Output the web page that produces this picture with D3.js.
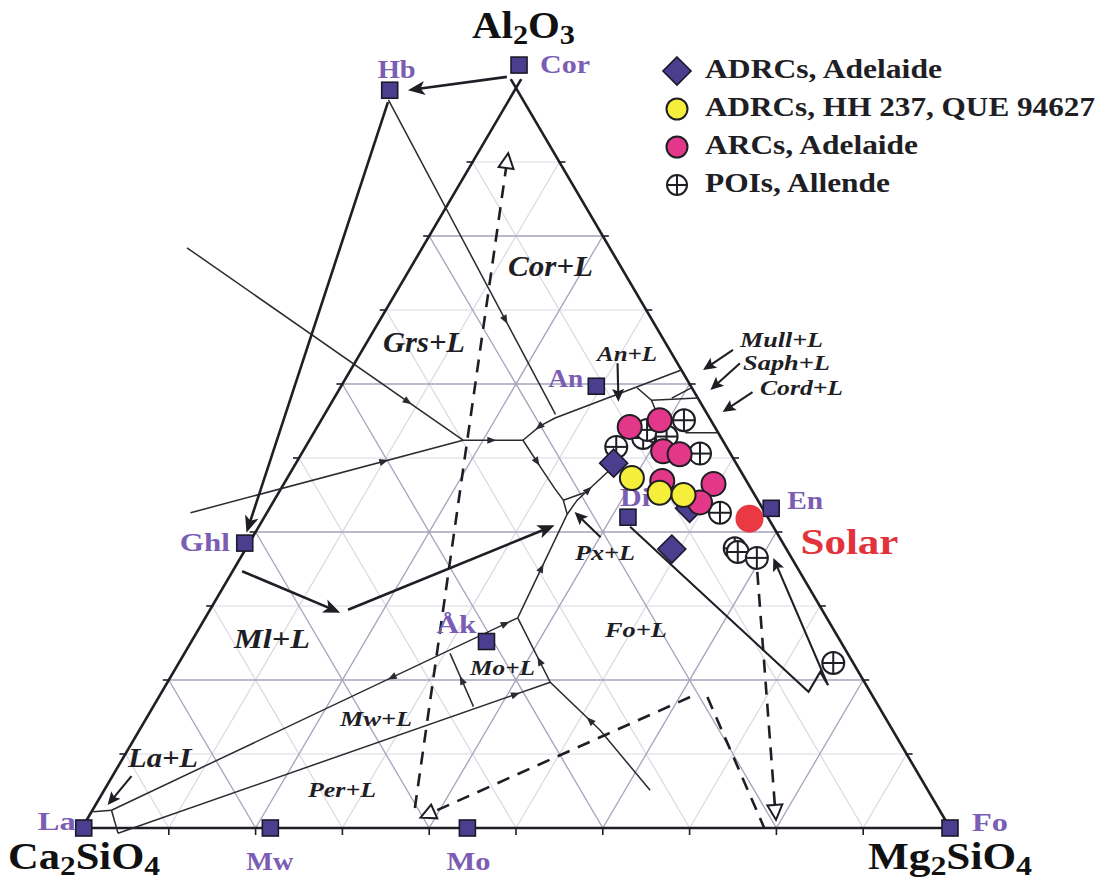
<!DOCTYPE html>
<html><head><meta charset="utf-8">
<script src="https://cdn.jsdelivr.net/npm/d3@7"></script>
<style>
html,body{margin:0;padding:0;background:#fff;}
svg{display:block;}
text{font-family:"Liberation Serif","Times New Roman",serif;font-weight:bold;}
</style></head><body>
<svg id="chart" width="1102" height="884"></svg>
<script>
// Every composition is [Al2O3 wt%, Mg2SiO4 wt%]; Ca2SiO4 is the remainder.

const gridLevels = [10, 20, 30, 40, 50, 60, 70, 80, 90];

const phaseNames = ["Cor", "Hb", "An", "Di", "En", "Ghl", "Åk", "La", "Mw", "Mo", "Fo"];
const phaseComps = [[103.1, -1.2], [99.7, -14.4], [59.7, 29.4], [42.0, 41.9], [43.2, 57.8],
                    [38.5, -0.5], [25.2, 34.0], [0, 0.2], [0, 21.7], [0, 44.4], [0, 100]];

// liquidus field boundaries
const cotectics = [
  [[78.4, -27.1], [52.4, 17.7]],
  [[42.6, -8.8], [52.4, 17.7]],
  [[52.4, 17.7], [52.4, 24.6]],
  [[52.4, 24.6], [54.3, 25.6], [55.4, 26.8], [61.9, 38.1]],
  [[98.4, -13.9], [55.9, 26.6]],
  [[52.4, 24.6], [48.8, 28.4], [45.9, 31.5], [44.3, 33.3], [42.4, 34.7]],
  [[28.4, 36.0], [42.4, 34.7], [44.3, 34.9], [48.1, 36.5], [49.1, 36.9]],
  [[44.3, 33.3], [45.3, 35.2]],
  [[28.4, 36.0], [2.4, 2.2]],
  [[2.4, 2.2], [2.2, 0.2]],
  [[2.4, 2.2], [-0.7, 4.5]],
  [[19.7, 44.1], [-0.7, 4.5]],
  [[23.6, 30.6], [16.4, 36.9]],
  [[28.4, 36.0], [19.7, 44.1], [13.2, 53.1], [5.1, 62.9]],
  [[59.5, 34.2], [57.8, 36.7], [55.6, 38.6]],
  [[57.8, 36.7], [58.1, 41.9]],
  [[58.1, 38.9], [59.5, 40.5]],
  [[53.4, 42.8], [53.4, 46.6]]
];
// [boundary index, position along it, +1 forward / -1 backward]
const cotecticArrows = [[0, 0.80, 1], [1, 0.71, 1], [2, 0.48, 1], [3, 0.12, -1], [4, 0.70, 1],
  [5, 0.30, 1], [6, 0.30, 1], [6, 0.80, 1], [8, 0.03, -1], [8, 0.31, 1],
  [11, 0.08, -1], [12, 0.5, -1], [13, 0.22, -1], [13, 0.58, -1]];

// crystallisation paths
const reactionArrows = [
  [[101.5, -1.8], [99.7, -12.3]],
  [[98.1, -13.8], [39.9, -1.0]],
  [[34.7, 1.1], [29.1, 15.2]],
  [[29.5, 15.9], [40.9, 34.0]]
];
const pointerArrows = [
  [[39.3, 40.1], [42.7, 35.4]],
  [[7.0, 2.2], [3.1, 1.4]],
  [[62.8, 30.3], [57.6, 33.0]],
  [[64.6, 42.7], [61.9, 40.6]],
  [[62.8, 44.4], [59.2, 42.8]],
  [[58.9, 47.8], [56.2, 45.7]]
];
const diopsidePath = [[40.7, 42.8], [18.4, 74.5], [21.1, 74.5], [19.3, 76.3], [36.5, 61.4]];
const evaporationPaths = [
  {pts: [[2.7, 37.0], [91.2, 3.5]], head: true},
  {pts: [[17.7, 61.2], [1.4, 38.3]], head: true},
  {pts: [[17.7, 63.2], [0, 78.6]], head: false},
  {pts: [[34.6, 60.5], [1.1, 79.4]], head: true}
];

// analysed objects
const poiComps = [[51.5, 35.8], [52.7, 38.3], [53.6, 39.2], [53.8, 38.2], [52.9, 40.9], [55.1, 41.8],
                  [50.6, 45.9], [42.6, 52.2], [37.8, 56.3], [37.3, 56.9], [36.5, 59.5], [22.3, 75.4]];
const adrcComps = [[49.3, 36.6], [37.7, 49.1], [43.2, 48.4]];
const arcComps = [[54.2, 36.0], [55.1, 39.0], [50.9, 41.5], [50.5, 43.6], [46.9, 43.4], [46.5, 49.5], [44.0, 49.2]];
const adrcHHComps = [[47.3, 39.7], [45.3, 43.9], [45.0, 46.8]];
const solarComp = [41.8, 56.0];

const legendLabels = ["ADRCs, Adelaide", "ADRCs, HH 237, QUE 94627", "ARCs, Adelaide", "POIs, Allende"];

// ---------------------------------------------------------------
const svg = d3.select("#chart");
const xS = d3.scaleLinear().domain([0, 100]).range([82, 950]);
const yS = d3.scaleLinear().domain([0, 100]).range([828, 88]);
const P = c => [xS(c[1] + c[0] / 2), yS(c[0])];
const line = d3.line().x(d => P(d)[0]).y(d => P(d)[1]);
const pxLine = d3.line();

const INK = "#1e1e24";
const PURPLE = "#4b3e8e";
const LABEL_PURPLE = "#7b5db3";

function arrowHead(g, tip, from, L, Wd, fill, stroke, notch) {
  const dx = tip[0] - from[0], dy = tip[1] - from[1], n = Math.hypot(dx, dy);
  const ux = dx / n, uy = dy / n, nx = -uy, ny = ux;
  const bx = tip[0] - ux * L, by = tip[1] - uy * L;
  const mx = tip[0] - ux * L * (1 - notch), my = tip[1] - uy * L * (1 - notch);
  const pts = [tip, [bx + nx * Wd, by + ny * Wd], [mx, my], [bx - nx * Wd, by - ny * Wd]];
  g.append("path").attr("d", "M" + pts.map(p => p[0].toFixed(2) + "," + p[1].toFixed(2)).join("L") + "Z")
    .attr("fill", fill).attr("stroke", stroke || "none").attr("stroke-width", stroke ? 2 : 0)
    .attr("stroke-linejoin", "miter");
}
function shorten(pts, d) {
  const a = pts[pts.length - 2], b = pts[pts.length - 1];
  const dx = b[0] - a[0], dy = b[1] - a[1], n = Math.hypot(dx, dy);
  const out = pts.slice(0, -1);
  out.push([b[0] - dx / n * d, b[1] - dy / n * d]);
  return out;
}
function pointAlong(pts, t) {
  const segs = [];
  let total = 0;
  for (let i = 1; i < pts.length; i++) {
    const l = Math.hypot(pts[i][0] - pts[i - 1][0], pts[i][1] - pts[i - 1][1]);
    segs.push(l); total += l;
  }
  let target = t * total;
  for (let i = 0; i < segs.length; i++) {
    if (target <= segs[i] || i === segs.length - 1) {
      const f = target / segs[i];
      const a = pts[i], b = pts[i + 1];
      return {p: [a[0] + (b[0] - a[0]) * f, a[1] + (b[1] - a[1]) * f], a, b};
    }
    target -= segs[i];
  }
}

// ---- grid ----
const gGrid = svg.append("g");
const gridSegs = [];
gridLevels.forEach(v => {
  const dark = v % 20 === 0;
  gridSegs.push({d: [[v, 0], [v, 100 - v]], dark});
  gridSegs.push({d: [[0, v], [100 - v, v]], dark});
  gridSegs.push({d: [[0, 100 - v], [100 - v, 0]], dark});
});
gridSegs.sort((a, b) => a.dark - b.dark);
gGrid.selectAll("path").data(gridSegs).join("path")
  .attr("d", s => line(s.d)).attr("fill", "none")
  .attr("stroke", s => s.dark ? "#a4a3ba" : "#d9d9e3")
  .attr("stroke-width", s => s.dark ? 1.3 : 1.2);

// ---- triangle frame and ticks ----
const gFrame = svg.append("g").attr("stroke", INK).attr("stroke-width", 2.6).attr("fill", "none");
gFrame.append("path").attr("d", line([[0, 0], [101.2, -0.0]]));
gFrame.append("path").attr("d", line([[0, 100], [101.2, -1.2]]));
gFrame.append("path").attr("d", line([[0, 0], [0, 100]]));
const gTicks = svg.append("g").attr("stroke", INK).attr("stroke-width", 1.6);
gridLevels.forEach(v => {
  const l = P([v, 0]), r = P([v, 100 - v]), b = P([0, v]);
  gTicks.append("line").attr("x1", l[0] - 6).attr("y1", l[1]).attr("x2", l[0] + 1).attr("y2", l[1]);
  gTicks.append("line").attr("x1", r[0] - 1).attr("y1", r[1]).attr("x2", r[0] + 6).attr("y2", r[1]);
  gTicks.append("line").attr("x1", b[0]).attr("y1", b[1] - 1).attr("x2", b[0]).attr("y2", b[1] + 7);
});

// ---- field boundaries ----
const gCot = svg.append("g");
gCot.selectAll("path").data(cotectics).join("path")
  .attr("d", d => line(d)).attr("fill", "none").attr("stroke", "#2a2a30").attr("stroke-width", 1.5);
cotecticArrows.forEach(([ci, t, dir]) => {
  const pts = cotectics[ci].map(P);
  const q = pointAlong(pts, t);
  const a = dir > 0 ? q.a : q.b, b = dir > 0 ? q.b : q.a;
  const dx = b[0] - a[0], dy = b[1] - a[1], n = Math.hypot(dx, dy);
  const tip = [q.p[0] + dx / n * 4.5, q.p[1] + dy / n * 4.5];
  arrowHead(gCot, tip, q.p, 9, 3.6, "#2a2a30", null, 0);
});

// ---- evaporation trends (dashed) ----
const gDash = svg.append("g");
evaporationPaths.forEach(e => {
  const pts = e.pts.map(P);
  const body = e.head ? shorten(pts, 15) : pts;
  gDash.append("path").attr("d", pxLine(body)).attr("fill", "none")
    .attr("stroke", INK).attr("stroke-width", 2.6).attr("stroke-dasharray", "13,9");
  if (e.head) arrowHead(gDash, pts[pts.length - 1], pts[pts.length - 2], 15, 7.5, "#fff", INK, 0);
});

// ---- crystallisation and pointer arrows ----
const gArr = svg.append("g");
reactionArrows.forEach(a => {
  const pts = a.map(P);
  gArr.append("path").attr("d", pxLine(shorten(pts, 9))).attr("fill", "none")
    .attr("stroke", INK).attr("stroke-width", 2.6);
  arrowHead(gArr, pts[1], pts[0], 17, 7, INK, null, 0.25);
});
pointerArrows.forEach(a => {
  const pts = a.map(P);
  gArr.append("path").attr("d", pxLine(shorten(pts, 7))).attr("fill", "none")
    .attr("stroke", INK).attr("stroke-width", 2.1);
  arrowHead(gArr, pts[1], pts[0], 13, 6, INK, null, 0.2);
});
{
  const pts = diopsidePath.map(P);
  gArr.append("path").attr("d", pxLine(shorten(pts, 6))).attr("fill", "none")
    .attr("stroke", INK).attr("stroke-width", 2.1).attr("stroke-linejoin", "miter");
  arrowHead(gArr, pts[pts.length - 1], pts[pts.length - 2], 13, 6, INK, null, 0.2);
}

// ---- text helpers ----
function label(x, y, str, size, w, opts = {}) {
  const t = svg.append("text").attr("x", x).attr("y", y).attr("font-size", size)
    .attr("fill", opts.fill || INK).attr("text-anchor", opts.anchor || "start")
    .attr("font-style", opts.italic ? "italic" : "normal")
    .attr("textLength", w).attr("lengthAdjust", "spacingAndGlyphs").text(str);
  return t;
}
function formula(x, y, parts, size, w) {
  const t = svg.append("text").attr("x", x).attr("y", y).attr("font-size", size).attr("fill", "#111")
    .attr("textLength", w).attr("lengthAdjust", "spacingAndGlyphs");
  let shift = 0;
  parts.forEach(([s, sub]) => {
    const target = sub ? size * 0.17 : 0;
    t.append("tspan").attr("dy", target - shift).attr("font-size", sub ? size * 0.74 : size).text(s);
    shift = target;
  });
}

// ---- phase field names ----
const fieldText = [
  ["Cor+L", 508, 276, 29, 85], ["Grs+L", 383, 352, 29, 82], ["An+L", 597, 361, 21, 60],
  ["Ml+L", 234, 648, 28, 76], ["Mo+L", 470, 675, 22, 65], ["Mw+L", 340, 726, 22, 72],
  ["Per+L", 308, 797, 22, 68], ["Fo+L", 605, 637, 22, 62], ["Px+L", 575, 560, 22, 60],
  ["La+L", 128, 767, 28, 70], ["Mull+L", 740, 347, 21, 83], ["Saph+L", 743, 370, 21, 87],
  ["Cord+L", 760, 395, 21, 83]
];
fieldText.forEach(([s, x, y, f, w]) => label(x, y, s, f, w, {italic: true}));

// ---- end-member formulas ----
formula(472, 38, [["Al", 0], ["2", 1], ["O", 0], ["3", 1]], 37, 103);
formula(8, 869, [["Ca", 0], ["2", 1], ["SiO", 0], ["4", 1]], 37, 152);
formula(868, 869, [["Mg", 0], ["2", 1], ["SiO", 0], ["4", 1]], 37, 164);

// ---- mineral squares and names ----
const phaseLabelPos = {
  "Cor": [21, 8, "start", 50], "Hb": [-12, -12, "start", 38], "An": [-48, 1, "start", 35],
  "Di": [-8, -11, "start", 30], "En": [16, 1, "start", 36], "Ghl": [-65, 8, "start", 50],
  "Åk": [-50, -9, "start", 40], "La": [-46, 2, "start", 38], "Mw": [-24, 42, "start", 47],
  "Mo": [-21, 42, "start", 44], "Fo": [22, 3, "start", 36]
};
const gSq = svg.append("g");
phaseComps.forEach((c, i) => {
  const [x, y] = P(c);
  gSq.append("rect").attr("x", x - 8).attr("y", y - 8).attr("width", 16).attr("height", 16)
    .attr("fill", PURPLE).attr("stroke", "#1a1a2a").attr("stroke-width", 1.6);
  const [dx, dy, anc, w] = phaseLabelPos[phaseNames[i]];
  label(x + dx, y + dy, phaseNames[i], 25, w, {fill: LABEL_PURPLE, anchor: anc});
});

// ---- analysed objects ----
function poi(g, x, y, r) {
  g.append("circle").attr("cx", x).attr("cy", y).attr("r", r).attr("fill", "#fff")
    .attr("stroke", INK).attr("stroke-width", 2);
  g.append("line").attr("x1", x - r).attr("x2", x + r).attr("y1", y).attr("y2", y).attr("stroke", INK).attr("stroke-width", 2);
  g.append("line").attr("x1", x).attr("x2", x).attr("y1", y - r).attr("y2", y + r).attr("stroke", INK).attr("stroke-width", 2);
}
function diamond(g, x, y, s) {
  g.append("path").attr("d", `M${x},${y - s}L${x + s},${y}L${x},${y + s}L${x - s},${y}Z`)
    .attr("fill", PURPLE).attr("stroke", "#1a1a2a").attr("stroke-width", 1.6);
}
function dot(g, x, y, r, fill) {
  g.append("circle").attr("cx", x).attr("cy", y).attr("r", r).attr("fill", fill)
    .attr("stroke", INK).attr("stroke-width", 2);
}
const gPts = svg.append("g");
poiComps.forEach(c => { const [x, y] = P(c); poi(gPts, x, y, 11); });
adrcComps.forEach(c => { const [x, y] = P(c); diamond(gPts, x, y, 14); });
arcComps.forEach(c => { const [x, y] = P(c); dot(gPts, x, y, 12, "#e3378a"); });
adrcHHComps.forEach(c => { const [x, y] = P(c); dot(gPts, x, y, 12, "#f5ee3a"); });
{
  const [x, y] = P(solarComp);
  gPts.append("circle").attr("cx", x).attr("cy", y).attr("r", 14).attr("fill", "#ea3943");
  label(x + 51, y + 35, "Solar", 36, 98, {fill: "#e2333d"});
}

// ---- legend ----
const gLeg = svg.append("g");
const legY = [71, 109, 147, 185];
diamond(gLeg, 677, legY[0], 14);
dot(gLeg, 677, legY[1], 10.5, "#f5ee3a");
dot(gLeg, 677, legY[2], 10.5, "#e3378a");
poi(gLeg, 677, legY[3], 10);
const legW = [237, 390, 213, 185];
legendLabels.forEach((s, i) => label(705, legY[i] + 7, s, 27, legW[i]));
</script>
</body></html>
